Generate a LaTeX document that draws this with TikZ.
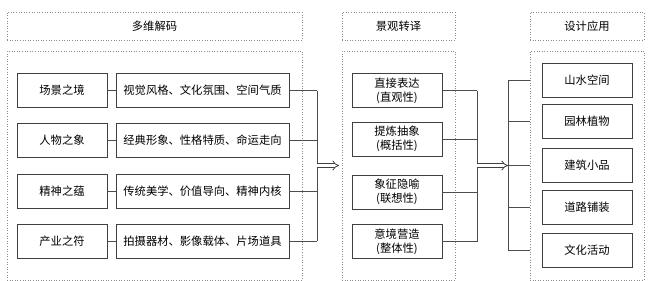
\documentclass[tikz,border=0pt]{standalone}
\usepackage{fontspec}
\setmainfont{Noto Sans CJK SC}
\usetikzlibrary{arrows.meta}

\tikzset{
    caja/.style={draw=black!75, line width=0.8pt, minimum height=34pt, inner sep=0pt,
        align=center, font=\fontsize{11.3}{14}\selectfont},
    marco/.style={draw=gray!90, dotted, line width=0.6pt, inner sep=0pt,
        font=\fontsize{11.3}{14}\selectfont},
    linea/.style={draw=black!70, line width=0.7pt},
    flecha/.style={draw=black!75, double=white, double distance=2.6pt, line width=0.8pt, -{Implies}}
}

\begin{document}
\begin{tikzpicture}[x=1pt, y=-1pt]
    \useasboundingbox (0,0) rectangle (648,281);

    % Marcos punteados
    \node[marco, minimum width=295pt, minimum height=28pt] (tA) at (154.5,26) {多维解码};
    \node[marco, minimum width=295pt, minimum height=229pt] (cA) at (154.5,165.5) {};
    \node[marco, minimum width=113pt, minimum height=28pt] (tB) at (398.5,26) {景观转译};
    \node[marco, minimum width=113pt, minimum height=229pt] (cB) at (398.5,165.5) {};
    \node[marco, minimum width=114pt, minimum height=28pt] (tC) at (587,26) {设计应用};
    \node[marco, minimum width=114pt, minimum height=229pt] (cC) at (587,165.5) {};

    % Columna izquierda
    \node[caja, minimum width=90pt] (l1) at (62,90.5) {场景之境};
    \node[caja, minimum width=90pt] (l2) at (62,140) {人物之象};
    \node[caja, minimum width=90pt] (l3) at (62,191) {精神之蕴};
    \node[caja, minimum width=90pt] (l4) at (62,241) {产业之符};
    \node[caja, minimum width=173pt] (r1) at (202.5,90.5) {视觉风格、文化氛围、空间气质};
    \node[caja, minimum width=173pt] (r2) at (202.5,140) {经典形象、性格特质、命运走向};
    \node[caja, minimum width=173pt] (r3) at (202.5,191) {传统美学、价值导向、精神内核};
    \node[caja, minimum width=173pt] (r4) at (202.5,241) {拍摄器材、影像载体、片场道具};

    % Columna central
    \node[caja, minimum width=90pt] (m1) at (397,90.5) {直接表达\\(直观性)};
    \node[caja, minimum width=90pt] (m2) at (397,139) {提炼抽象\\(概括性)};
    \node[caja, minimum width=90pt] (m3) at (397,192) {象征隐喻\\(联想性)};
    \node[caja, minimum width=90pt] (m4) at (397,241.5) {意境营造\\(整体性)};

    % Columna derecha
    \node[caja, minimum width=90pt] (d1) at (587,80) {山水空间};
    \node[caja, minimum width=90pt] (d2) at (587,121.5) {园林植物};
    \node[caja, minimum width=90pt] (d3) at (587,165) {建筑小品};
    \node[caja, minimum width=90pt] (d4) at (587,207.5) {道路铺装};
    \node[caja, minimum width=90pt] (d5) at (587,250) {文化活动};

    % Barras
    \coordinate (bA) at (317,165.5);
    \coordinate (bB) at (477,165.5);
    \coordinate (bC) at (508,165.5);
    \coordinate (pA) at (339,165.5);

    % Conexiones izquierda
    \foreach \i in {1,...,4} {
        \draw[linea] (l\i) -- (r\i);
        \draw[linea] (r\i.east) -- (r\i.east -| bA);
    }
    \draw[linea] (r1.east -| bA) -- (r4.east -| bA);
    \draw[flecha] (bA) -- (pA);

    % Conexiones centro
    \foreach \i in {1,...,4} {
        \draw[linea] (m\i.east) -- (m\i.east -| bB);
    }
    \draw[linea] (m1.east -| bB) -- (m4.east -| bB);
    \draw[flecha] (bB) -- (bC);

    % Conexiones derecha
    \foreach \i in {1,...,5} {
        \draw[linea] (d\i.west -| bC) -- (d\i.west -| cC.west);
    }
    \draw[linea] (d1.west -| bC) -- (d5.west -| bC);
\end{tikzpicture}
\end{document}
